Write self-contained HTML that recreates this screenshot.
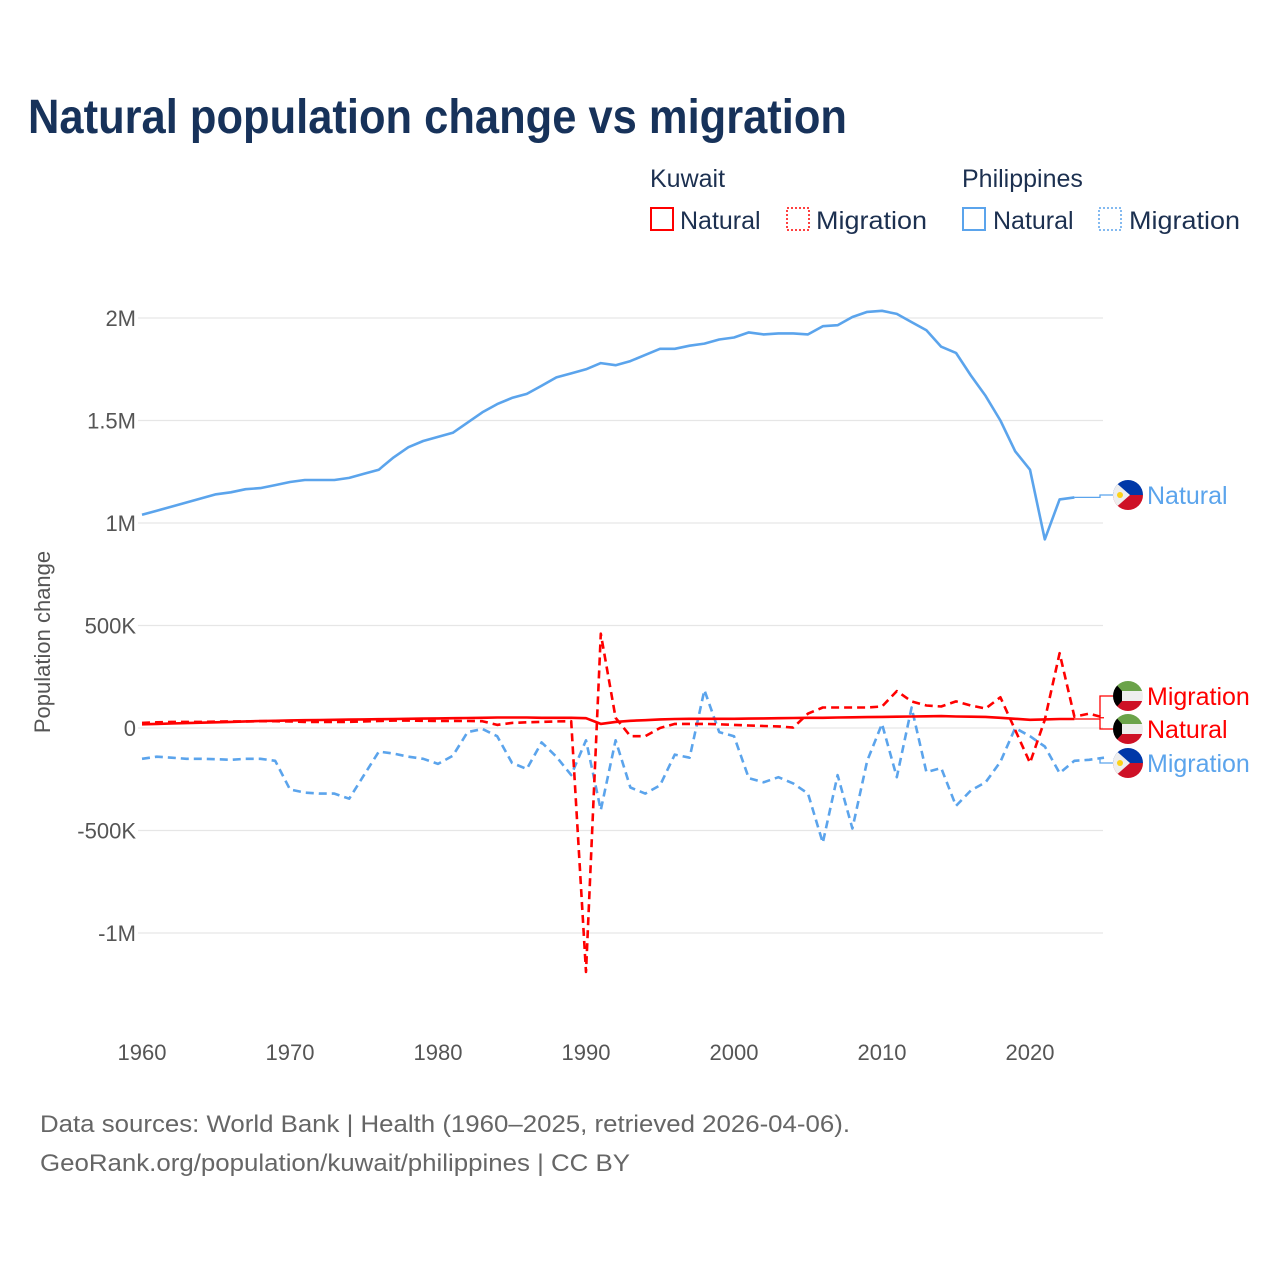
<!DOCTYPE html>
<html><head><meta charset="utf-8"><style>
html,body{margin:0;padding:0;background:#fff;width:1280px;height:1280px;overflow:hidden}
svg{display:block;font-family:"Liberation Sans",sans-serif}
</style></head><body>
<svg id="chart" width="1280" height="1280" viewBox="0 0 1280 1280">
<text x="28" y="133" font-size="48" font-weight="bold" fill="#17325a" textLength="819" lengthAdjust="spacingAndGlyphs">Natural population change vs migration</text>
<g font-size="25" fill="#1c3050">
<text x="650" y="187">Kuwait</text>
<text x="962" y="187">Philippines</text>
<g><rect x="651" y="208" width="22" height="22" fill="none" stroke="#f00" stroke-width="2"/><text x="680" y="229">Natural</text></g>
<g><rect x="787" y="208" width="22" height="22" fill="none" stroke="#f00" stroke-width="1.5" stroke-dasharray="2 2"/><text x="816" y="229" textLength="111" lengthAdjust="spacingAndGlyphs">Migration</text></g>
<g><rect x="963" y="208" width="22" height="22" fill="none" stroke="#5ba4ec" stroke-width="2"/><text x="993" y="229">Natural</text></g>
<g><rect x="1099" y="208" width="22" height="22" fill="none" stroke="#5ba4ec" stroke-width="1.5" stroke-dasharray="2 2"/><text x="1129" y="229" textLength="111" lengthAdjust="spacingAndGlyphs">Migration</text></g>
</g>
<text transform="translate(50,642) rotate(-90)" text-anchor="middle" font-size="22" fill="#555">Population change</text>
<g id="grid"></g><g id="yticks"></g><g id="xticks"></g><g id="series"></g><g id="labels"></g>
<g font-size="24" fill="#666">
<text x="40" y="1132" textLength="810" lengthAdjust="spacingAndGlyphs">Data sources: World Bank | Health (1960–2025, retrieved 2026-04-06).</text>
<text x="40" y="1171" textLength="590" lengthAdjust="spacingAndGlyphs">GeoRank.org/population/kuwait/philippines | CC BY</text>
</g>
</svg>
<script>
const startYear = 1960;
const yTickValues = [-1000000,-500000,0,500000,1000000,1500000,2000000];
const yTickLabels = ["-1M","-500K","0","500K","1M","1.5M","2M"];
const xTickYears = [1960,1970,1980,1990,2000,2010,2020];
const phNatural = [1040000,1060000,1080000,1100000,1120000,1140000,1150000,1165000,1170000,1185000,1200000,1210000,1210000,1210000,1220000,1240000,1260000,1320000,1370000,1400000,1420000,1440000,1490000,1540000,1580000,1610000,1630000,1670000,1710000,1730000,1750000,1780000,1770000,1790000,1820000,1850000,1850000,1865000,1875000,1895000,1905000,1930000,1920000,1925000,1925000,1920000,1960000,1965000,2005000,2030000,2035000,2020000,1980000,1940000,1860000,1830000,1720000,1620000,1500000,1350000,1260000,920000,1115000,1125000];
const phMigration = [-150000,-140000,-145000,-150000,-150000,-152000,-155000,-150000,-150000,-160000,-300000,-315000,-320000,-320000,-345000,-230000,-115000,-125000,-140000,-150000,-175000,-135000,-20000,-5000,-40000,-170000,-200000,-70000,-140000,-230000,-60000,-400000,-60000,-290000,-320000,-280000,-130000,-145000,185000,-20000,-40000,-245000,-265000,-240000,-270000,-320000,-560000,-230000,-490000,-160000,20000,-240000,100000,-215000,-195000,-380000,-305000,-265000,-165000,0,-40000,-90000,-220000,-160000,-155000,-145000];
const kwNatural = [18000,20000,22000,24000,26000,28000,30000,32000,34000,35000,37000,38000,39000,40000,41000,42000,43000,44000,45000,46000,47000,48000,49000,50000,51000,51000,51000,50000,50000,50000,48000,20000,30000,35000,38000,42000,44000,45000,45000,45000,45000,46000,47000,48000,49000,50000,50000,51000,52000,53000,54000,55000,56000,57000,58000,56000,55000,54000,50000,45000,40000,42000,44000,44000];
const kwMigration = [25000,28000,30000,30000,30000,31000,32000,32000,33000,33000,32000,30000,30000,30000,30000,32000,34000,36000,36000,35000,34000,34000,34000,33000,15000,25000,28000,30000,32000,33000,-1190000,460000,50000,-40000,-40000,0,20000,20000,20000,18000,15000,12000,10000,8000,2000,70000,100000,100000,100000,100000,105000,180000,130000,110000,105000,130000,110000,95000,150000,-10000,-170000,40000,365000,55000,70000,50000];

const NS="http://www.w3.org/2000/svg";
const X0=142, PXY=14.8, Y0=728, PXV=205/1000000, GX1=138, GX2=1103;
function xs(year){return X0+(year-startYear)*PXY;}
function ys(v){return Y0-v*PXV;}
function mk(tag,attrs,parent){const e=document.createElementNS(NS,tag);for(const k in attrs)e.setAttribute(k,attrs[k]);parent.appendChild(e);return e;}
const grid=document.getElementById('grid'), yt=document.getElementById('yticks'), xt=document.getElementById('xticks');
yTickValues.forEach((v,i)=>{
  const l=mk('line',{x1:GX1,x2:GX2,y1:ys(v),y2:ys(v),stroke:'#e6e6e6','stroke-width':1.3},grid);
  
  
  const t=mk('text',{x:136,y:ys(v)+8,'text-anchor':'end','font-size':22,fill:'#555'},yt);
  t.textContent=yTickLabels[i];
  
  
});
xTickYears.forEach(yr=>{
  const t=mk('text',{x:xs(yr),y:1060,'text-anchor':'middle','font-size':22,fill:'#555'},xt);
  t.textContent=String(yr);
  
  
});
const series=document.getElementById('series');
function line(arr,color,dash,name){
  const d=arr.map((v,i)=>(i?'L':'M')+xs(startYear+i).toFixed(1)+' '+ys(v).toFixed(1)).join(' ');
  const p=mk('path',{d:d,fill:'none',stroke:color,'stroke-width':2.6,'stroke-linejoin':'round'},series);
  if(dash)p.setAttribute('stroke-dasharray',dash);
  
  
}
line(phNatural,'#5ba4ec',null,'philippines-natural-line');
line(phMigration,'#5ba4ec','8 5','philippines-migration-line');
line(kwNatural,'#f00',null,'kuwait-natural-line');
line(kwMigration,'#f00','8 5','kuwait-migration-line');

const lab=document.getElementById('labels');
function endLabel(arr,labelY,color,text,flag,name){
  const n=arr.length-1, ex=xs(startYear+n), ey=ys(arr[n]);
  const c=mk('path',{d:`M${ex} ${ey} L1100 ${ey} L1100 ${labelY} L1113 ${labelY}`,fill:'none',stroke:color,'stroke-width':1.3},lab);
  
  
  const g=mk('g',{},lab);
  
  
  const cx=1128, cy=labelY, r=15;
  const cp='cp'+name; const clip=mk('clipPath',{id:cp},g); mk('circle',{cx:cx,cy:cy,r:r},clip);
  const gg=mk('g',{'clip-path':`url(#${cp})`},g);
  if(flag==='ph'){
    mk('rect',{x:cx-r,y:cy-r,width:2*r,height:r,fill:'#0038a8'},gg);
    mk('rect',{x:cx-r,y:cy,width:2*r,height:r,fill:'#ce1126'},gg);
    mk('path',{d:`M${cx-r} ${cy-r} L${cx+2} ${cy} L${cx-r} ${cy+r}Z`,fill:'#eee'},gg);
    mk('circle',{cx:cx-8,cy:cy,r:3,fill:'#fcd116'},gg);
  } else {
    mk('rect',{x:cx-r,y:cy-r,width:2*r,height:10,fill:'#6ba34a'},gg);
    mk('rect',{x:cx-r,y:cy-5,width:2*r,height:10,fill:'#eee'},gg);
    mk('rect',{x:cx-r,y:cy+5,width:2*r,height:10,fill:'#ce1126'},gg);
    mk('path',{d:`M${cx-r} ${cy-r} L${cx-6} ${cy-5} L${cx-6} ${cy+5} L${cx-r} ${cy+r}Z`,fill:'#000'},gg);
  }
  const t=mk('text',{x:1147,y:labelY+9,'font-size':25,fill:color},lab);
  t.textContent=text;
  
  
}
endLabel(phNatural,495,'#5ba4ec','Natural','ph','philippines-natural-end');
endLabel(kwMigration,696,'#f00','Migration','kw','kuwait-migration-end');
endLabel(kwNatural,729,'#f00','Natural','kw','kuwait-natural-end');
endLabel(phMigration,763,'#5ba4ec','Migration','ph','philippines-migration-end');
</script>
</body></html>
